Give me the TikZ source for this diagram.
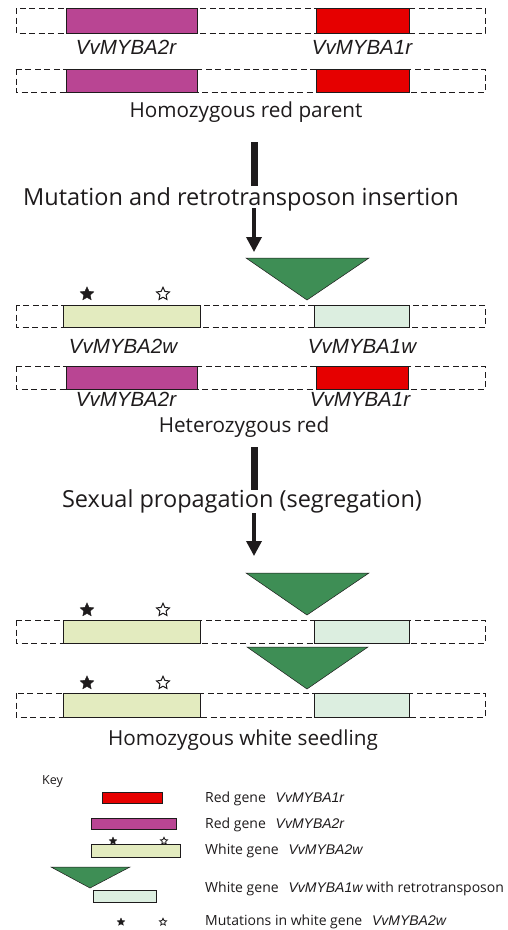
\documentclass[tikz,border=0pt]{standalone}
\usepackage{fontspec}
\setmainfont{Open Sans}
\newfontfamily\genefont{Liberation Sans}
\newcommand\keygn[1]{{\genefont\itshape\fontsize{14}{16}\selectfont #1}}
\usetikzlibrary{shapes.geometric,arrows.meta}
\definecolor{magentagene}{HTML}{B94593}
\definecolor{redgene}{HTML}{E60000}
\definecolor{retro}{HTML}{3E8E55}
\definecolor{whitetwo}{HTML}{E3EBBF}
\definecolor{whiteone}{HTML}{DCEEE0}
\definecolor{ink}{HTML}{1E1B1C}
\begin{document}
\begin{tikzpicture}[x=1pt,y=-1pt,
  chrom/.style={draw=ink, dash pattern=on 6pt off 3.5pt, line width=0.9pt},
  genebox/.style={draw=ink, line width=0.9pt},
  retrotri/.style={fill=retro, draw=ink, line width=0.5pt},
  genelabel/.style={font=\genefont\itshape\fontsize{20.5}{23}\selectfont, text=ink, inner sep=0pt, anchor=base},
  caption/.style={font=\fontsize{20.7}{24}\selectfont, text=ink, inner sep=0pt, anchor=base},
  stepcaption/.style={font=\fontsize{23.5}{27}\selectfont, text=ink, inner sep=0pt, anchor=base},
  keytext/.style={font=\fontsize{14}{16}\selectfont, text=ink, inner sep=0pt, anchor=base west},
  blackstar/.style={star, star points=5, star point ratio=2.1, fill=ink, draw=ink, line width=0.3pt, minimum size=14.5pt, inner sep=0pt},
  whitestar/.style={star, star points=5, star point ratio=2.1, fill=white, draw=ink, line width=1pt, minimum size=13.5pt, inner sep=0pt},
  smallblackstar/.style={blackstar, minimum size=8pt},
  smallwhitestar/.style={whitestar, minimum size=7.5pt, line width=0.8pt},
  bar/.style={draw=ink, line width=7pt},
  thinarrow/.style={draw=ink, line width=3.4pt, -{Triangle[length=15pt,width=15pt]}}
]
\useasboundingbox (0,0) rectangle (508,930);
\fill[white] (0,0) rectangle (508,930);

% ---------- Row 1 ----------
\draw[chrom] (16,8) rectangle (485,33);
\draw[genebox, fill=magentagene] (66,8) rectangle (197,33);
\draw[genebox, fill=redgene] (316,8) rectangle (409,33);
\node[genelabel] (l1a) at (126,54) {VvMYBA2r};
\node[genelabel] (l1b) at (362,54) {VvMYBA1r};
% ---------- Row 2 ----------
\draw[chrom] (16,69) rectangle (485,92);
\draw[genebox, fill=magentagene] (66,69) rectangle (197,92);
\draw[genebox, fill=redgene] (316,69) rectangle (409,92);
\node[caption] (c1) at (246,117) {Homozygous red parent};

% ---------- Arrow 1 ----------
\coordinate (a1top) at (254,142);
\coordinate (a1bot) at (254,186);
\coordinate (a1s) at (254,208);
\coordinate (a1e) at (254,252);
\draw[bar] (a1top) -- (a1bot);
\node[stepcaption] (s1) at (241,205) {Mutation and retrotransposon insertion};
\draw[thinarrow] (a1s) -- (a1e);

% ---------- Row 3 ----------
\draw[chrom] (16,305) rectangle (485,327);
\draw[genebox, fill=whitetwo] (63,305) rectangle (200,327);
\draw[genebox, fill=whiteone] (314,305) rectangle (409,327);
\draw[retrotri] (246,258) -- (369,258) -- (307,300) -- cycle;
\node[blackstar] (st3a) at (87,294) {};
\node[whitestar] (st3b) at (163,294) {};
\node[genelabel] (l3a) at (123,353) {VvMYBA2w};
\node[genelabel] (l3b) at (362,353) {VvMYBA1w};
% ---------- Row 4 ----------
\draw[chrom] (16,366) rectangle (485,389);
\draw[genebox, fill=magentagene] (66,366) rectangle (197,389);
\draw[genebox, fill=redgene] (316,366) rectangle (408,389);
\node[genelabel] (l4a) at (126,406) {VvMYBA2r};
\node[genelabel] (l4b) at (360,406) {VvMYBA1r};
\node[caption] (c2) at (244,432) {Heterozygous red};

% ---------- Arrow 2 ----------
\coordinate (a2top) at (254,447);
\coordinate (a2bot) at (254,490);
\coordinate (a2s) at (254,513);
\coordinate (a2e) at (254,556);
\draw[bar] (a2top) -- (a2bot);
\node[stepcaption] (s2) at (242,507) {Sexual propagation (segregation)};
\draw[thinarrow] (a2s) -- (a2e);

% ---------- Row 5 ----------
\draw[chrom] (16,620) rectangle (485,643);
\draw[genebox, fill=whitetwo] (63,620) rectangle (200,643);
\draw[genebox, fill=whiteone] (314,620) rectangle (409,643);
\draw[retrotri] (246,573) -- (369,573) -- (307,615) -- cycle;
\node[blackstar] (st5a) at (87,610) {};
\node[whitestar] (st5b) at (163,610) {};
% ---------- Row 6 ----------
\draw[chrom] (16,693) rectangle (485,717);
\draw[genebox, fill=whitetwo] (63,693) rectangle (200,717);
\draw[genebox, fill=whiteone] (314,693) rectangle (409,717);
\draw[retrotri] (247,647) -- (368,647) -- (307,689) -- cycle;
\node[blackstar] (st6a) at (87,683) {};
\node[whitestar] (st6b) at (163,683) {};
\node[caption] (c3) at (243,745) {Homozygous white seedling};

% ---------- Key ----------
\node[keytext, font=\fontsize{12.5}{14}\selectfont] (key) at (42,784) {Key};
\draw[genebox, fill=redgene] (102,792) rectangle (162,803);
\node[keytext] (k1) at (205,802) {Red gene\hspace{0.7em}\keygn{VvMYBA1r}};
\draw[genebox, fill=magentagene] (91,818) rectangle (176,829);
\node[keytext] (k2) at (205,828) {Red gene\hspace{0.7em}\keygn{VvMYBA2r}};
\draw[genebox, fill=whitetwo] (91,844) rectangle (180,857);
\node[smallblackstar] (ks1) at (113,841) {};
\node[smallwhitestar] (ks2) at (164,841) {};
\node[keytext] (k3) at (205,854) {White gene\hspace{0.7em}\keygn{VvMYBA2w}};
\draw[retrotri] (51,867) -- (130,867) -- (90,888) -- cycle;
\draw[genebox, fill=whiteone] (93,890) rectangle (156,902);
\node[keytext] (k4) at (205,892) {White gene\hspace{0.7em}\keygn{VvMYBA1w} with retrotransposon};
\node[smallblackstar] (ks3) at (121,922) {};
\node[smallwhitestar] (ks4) at (163,922) {};
\node[keytext] (k5) at (205,925) {Mutations in white gene\hspace{0.7em}\keygn{VvMYBA2w}};
\end{tikzpicture}
\end{document}
